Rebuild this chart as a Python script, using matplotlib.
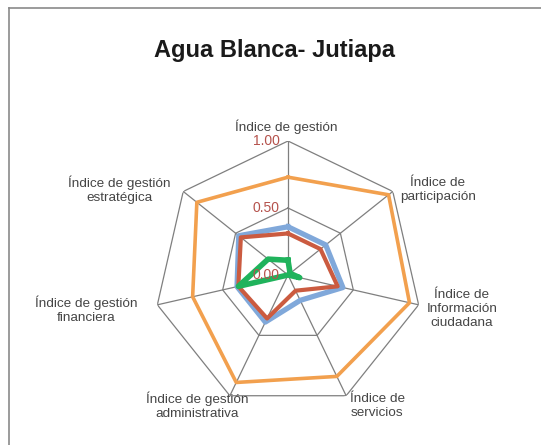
import numpy as np
import matplotlib
matplotlib.use("Agg")
import matplotlib.pyplot as plt

# axes, clockwise from the top
categories = [
    "Índice de gestión",
    "Índice de\nparticipación",
    "Índice de\nInformación\nciudadana",
    "Índice de\nservicios",
    "Índice de gestión\nadministrativa",
    "Índice de gestión\nfinanciera",
    "Índice de gestión\nestratégica",
]

# series values
orange_vals = [0.73, 0.96, 0.93, 0.84, 0.89, 0.73, 0.87]
blue_vals = [0.36, 0.36, 0.42, 0.21, 0.39, 0.39, 0.47]
red_vals = [0.31, 0.31, 0.38, 0.13, 0.36, 0.38, 0.45]
green_vals = [0.11, 0.02, 0.09, 0.0, 0.0, 0.38, 0.19]

tick_vals = [0.0, 0.5, 1.0]
tick_labels = ["0.00", "0.50", "1.00"]

# label positions in pixels (x, y) of the 541x445 picture
label_pos = [(286, 127), (438, 190), (462, 309), (377, 406),
             (197, 406), (86, 310), (119, 190)]

W, H = 541, 445
plt.rcParams['font.family'] = ['Liberation Sans', 'DejaVu Sans']

fig = plt.figure(figsize=(W / 100, H / 100), dpi=100)

# frame around the chart area (only left and top are visible in the crop)
fig.add_artist(plt.Line2D([9 / W, 9 / W], [0, 1 - 8 / H], color='#8a8a8a', lw=1.2))
fig.add_artist(plt.Line2D([9 / W, 1], [1 - 8 / H, 1 - 8 / H], color='#8a8a8a', lw=1.2))

cx, cy, R = 288, 275, 134
ax = fig.add_axes([(cx - R) / W, (H - cy - R) / H, 2 * R / W, 2 * R / H], polar=True)
ax.set_theta_offset(np.pi / 2)
ax.set_theta_direction(-1)
ax.set_ylim(0, 1)
ax.grid(False)
ax.set_xticks([])
ax.set_yticks([])
ax.spines['polar'].set_visible(False)
ax.patch.set_alpha(0)

n = len(categories)
angles = np.arange(n) * 2 * np.pi / n
closed = np.concatenate([angles, angles[:1]])

# heptagon grid and spokes
for r in tick_vals[1:]:
    ax.plot(closed, [r] * (n + 1), color='#7f7f7f', lw=0.9, zorder=1)
for a in angles:
    ax.plot([a, a], [0, 1], color='#7f7f7f', lw=0.9, zorder=1)

def closed_vals(v):
    return list(v) + [v[0]]

ax.plot(closed, closed_vals(orange_vals), color='#F2A04E', lw=2.6, zorder=3)
ax.plot(closed, closed_vals(blue_vals), color='#80A8DA', lw=3.8, zorder=4)
ax.plot(closed, closed_vals(red_vals), color='#CB5B40', lw=3.0, zorder=5)
ax.plot(closed, closed_vals(green_vals), color='#20B35C', lw=4.0, zorder=6,
        solid_joinstyle='round')

# radial tick labels along the top spoke
for v, t in zip(tick_vals, tick_labels):
    ax.annotate(t, xy=(0, v), xytext=(-6, 0), textcoords='offset points',
                ha='right', va='center', fontsize=10, color='#B5524C', zorder=7)

for lab, (x, y) in zip(categories, label_pos):
    fig.text(x / W, 1 - y / H, lab, ha='center', va='center', fontsize=9.7,
             color='#454545', linespacing=1.25)

fig.text(275 / W, 1 - 50 / H, "Agua Blanca- Jutiapa", ha='center', va='center',
         fontsize=17, fontweight='bold', color='#1a1a1a')

fig.savefig("out.png", dpi=100, facecolor='white')
